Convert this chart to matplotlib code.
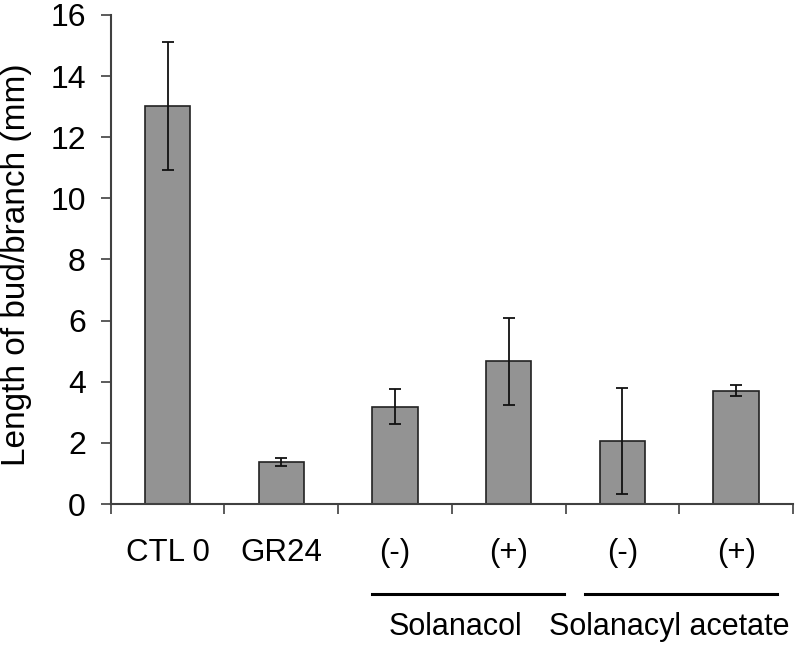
import matplotlib
matplotlib.use('Agg')
import matplotlib.pyplot as plt

labels = ['CTL 0', 'GR24', '(-)', '(+)', '(-)', '(+)']
lengths = [13.02, 1.37, 3.18, 4.67, 2.07, 3.70]
errors = [2.10, 0.12, 0.57, 1.43, 1.74, 0.18]
groups = ['Solanacol', 'Solanacyl acetate']
group_spans = [(1.80, 3.49), (3.67, 5.36)]
group_centers = [2.53, 4.41]

plt.rcParams['font.family'] = ['Liberation Sans', 'DejaVu Sans']

fig = plt.figure(figsize=(7.97, 6.46), dpi=100)
ax = fig.add_axes([0.139, 0.2198, 0.856, 0.757])

x = list(range(len(labels)))
ax.bar(x, lengths, width=0.4, color='#939393', edgecolor='#222222', linewidth=1.2)
ax.errorbar(x, lengths, yerr=errors, fmt='none', ecolor='#111111',
            elinewidth=1.3, capsize=4, capthick=1.3)

ax.set_xlim(-0.5, 5.5)
ax.set_ylim(0, 16)
ax.set_yticks(range(0, 17, 2))
ax.tick_params(axis='y', labelsize=23, length=7, width=1.2, color='#404040', pad=11)

ax.set_xticks([i - 0.5 for i in range(len(labels) + 1)])
ax.set_xticklabels([])
ax.tick_params(axis='x', length=7, width=1.2, color='#404040')

for side in ['top', 'right']:
    ax.spines[side].set_visible(False)
for side in ['left', 'bottom']:
    ax.spines[side].set_color('#404040')
    ax.spines[side].set_linewidth(1.5)

ax.set_ylabel('Length of bud/branch (mm)', fontsize=24)
ax.yaxis.set_label_coords(-0.115, 0.49)

trans = ax.get_xaxis_transform()
for i, lab in enumerate(labels):
    ax.text(i, -0.10, lab, transform=trans, ha='center', va='center', fontsize=22.5)

for (x0, x1), name, cx in zip(group_spans, groups, group_centers):
    ax.plot([x0, x1], [-0.184, -0.184], transform=trans, color='black',
            linewidth=2.2, clip_on=False)
    ax.text(cx, -0.2515, name, transform=trans, ha='center', va='center', fontsize=22)

fig.savefig('out.png', dpi=100)
